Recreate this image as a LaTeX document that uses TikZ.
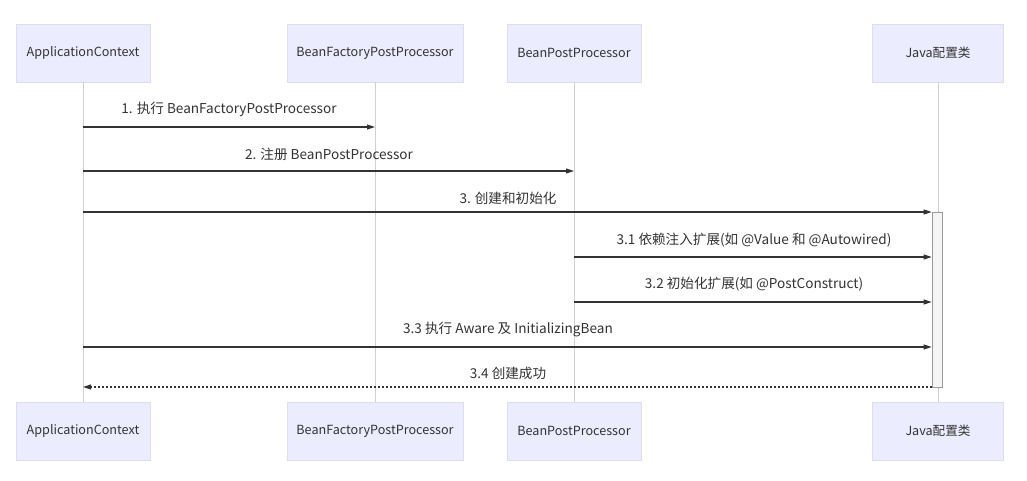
\documentclass[tikz,border=0pt]{standalone}
\usepackage{fontspec}
\setmainfont{Noto Sans CJK SC}
\usetikzlibrary{arrows.meta}
\definecolor{boxfill}{HTML}{ECECFF}
\definecolor{boxline}{HTML}{DDDDEE}
\definecolor{lifeline}{HTML}{D0D0D0}
\definecolor{msgcol}{HTML}{333333}
\tikzset{
  actor/.style={draw=boxline, fill=boxfill, minimum height=58pt, inner sep=0pt, font=\fontsize{12.6}{14}\selectfont, text=msgcol},
  life/.style={draw=lifeline, line width=0.8pt},
  msg/.style={draw=msgcol, line width=1.1pt, -{Triangle[length=8pt,width=5pt]}},
  ret/.style={draw=msgcol, line width=1.1pt, dash pattern=on 2pt off 2pt, -{Triangle[length=8pt,width=5pt]}},
  lbl/.style={font=\fontsize{13.6}{15}\selectfont, text=msgcol, inner sep=0pt},
  actbar/.style={draw=gray!80, fill=gray!8, line width=0.8pt, minimum width=10pt, minimum height=175pt, inner sep=0pt}
}
\begin{document}
\begin{tikzpicture}[x=1pt,y=-1pt]
\useasboundingbox (0,0) rectangle (1027,481);
% top actors
\node[actor, minimum width=134pt] (a1) at (83,53) {ApplicationContext};
\node[actor, minimum width=176pt] (b1) at (375,53) {BeanFactoryPostProcessor};
\node[actor, minimum width=134pt] (c1) at (574,53) {BeanPostProcessor};
\node[actor, minimum width=131pt] (d1) at (938,53) {Java配置类};
% bottom actors
\node[actor, minimum width=134pt] (a2) at (83,431) {ApplicationContext};
\node[actor, minimum width=176pt] (b2) at (375,431) {BeanFactoryPostProcessor};
\node[actor, minimum width=134pt] (c2) at (574,431) {BeanPostProcessor};
\node[actor, minimum width=131pt] (d2) at (938,431) {Java配置类};
% lifelines
\draw[life] (a1.south) -- (a2.north);
\draw[life] (b1.south) -- (b2.north);
\draw[life] (c1.south) -- (c2.north);
\draw[life] (d1.south) -- (d2.north);
% activation
\node[actbar] (act) at (937,299.5) {};
% message rows
\coordinate (y1) at (0,127);
\coordinate (y2) at (0,171);
\coordinate (y3) at (0,212);
\coordinate (y4) at (0,257);
\coordinate (y5) at (0,302);
\coordinate (y6) at (0,347);
\coordinate (y7) at (0,387);
\draw[msg] (a1 |- y1) -- (b1 |- y1);
\node[lbl] (l1) at (229,109) {1. 执行 BeanFactoryPostProcessor};
\draw[msg] (a1 |- y2) -- (c1 |- y2);
\node[lbl] (l2) at (329,154) {2. 注册 BeanPostProcessor};
\draw[msg] (a1 |- y3) -- (act.west |- y3);
\node[lbl] (l3) at (508,198) {3. 创建和初始化};
\draw[msg] (c1 |- y4) -- (act.west |- y4);
\node[lbl] (l4) at (754,240) {3.1 依赖注入扩展(如 @Value 和 @Autowired)};
\draw[msg] (c1 |- y5) -- (act.west |- y5);
\node[lbl] (l5) at (754,284) {3.2 初始化扩展(如 @PostConstruct)};
\draw[msg] (a1 |- y6) -- (act.west |- y6);
\node[lbl] (l6) at (508,329) {3.3 执行 Aware 及 InitializingBean};
\draw[ret] (act.west |- y7) -- (a1 |- y7);
\node[lbl] (l7) at (508,373) {3.4 创建成功};
\end{tikzpicture}
\end{document}
